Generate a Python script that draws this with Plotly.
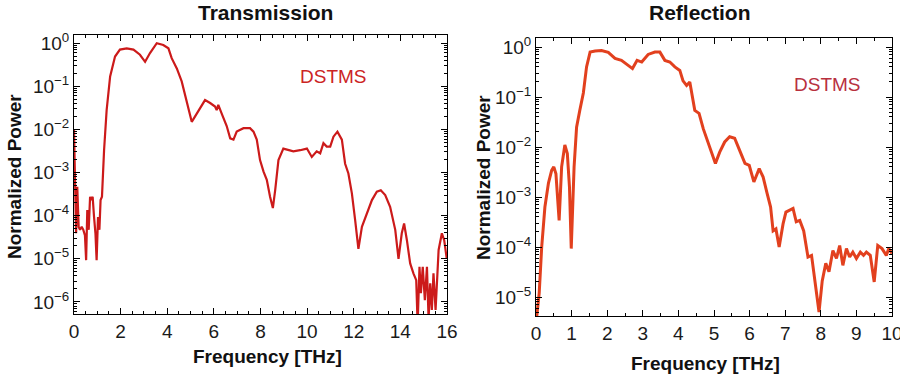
import plotly.graph_objects as go

# ---------------- data ----------------
trans_freq = [0, 0.04, 0.09, 0.14, 0.2, 0.26, 0.33, 0.4, 0.47, 0.52, 0.57, 0.63, 0.69, 0.74, 0.8,
              0.86, 0.92, 0.97, 1.03, 1.09, 1.14, 1.2, 1.29, 1.4, 1.55, 1.76, 1.97, 2.26, 2.55, 2.83,
              3.05, 3.26, 3.55, 3.83, 4.05, 4.19, 4.41, 4.62, 4.84, 5.05, 5.26, 5.48, 5.62, 5.84, 6.05,
              6.12, 6.19, 6.34, 6.55, 6.7, 6.84, 6.98, 7.27, 7.55, 7.7, 7.84, 7.98, 8.13, 8.27, 8.41,
              8.53, 8.63, 8.77, 8.98, 9.2, 9.41, 9.7, 9.99, 10.2, 10.41, 10.56, 10.7, 10.84, 10.99,
              11.13, 11.3, 11.49, 11.63, 11.77, 11.92, 12.06, 12.2, 12.35, 12.56, 12.78, 12.99, 13.16,
              13.35, 13.56, 13.78, 13.92, 14.06, 14.16, 14.28, 14.42, 14.56, 14.68, 14.74, 14.82, 14.88,
              14.96, 15.05, 15.14, 15.21, 15.28, 15.35, 15.42, 15.51, 15.64, 15.78, 15.88, 15.99]
trans_power = [1.0e-2, 4.7e-4, 3.9e-5, 4.7e-4, 5.5e-5, 4.7e-5, 5.5e-5, 4.7e-5, 3.5e-5, 9.3e-6,
               1.35e-4, 4.7e-5, 2.75e-4, 2.3e-4, 2.75e-4, 9.3e-5, 3.9e-5, 9.3e-6, 9.3e-5, 4.7e-5,
               2.3e-4, 2.75e-4, 3.3e-3, 2.8e-2, 0.17, 0.49, 0.71, 0.76, 0.71, 0.54,
               0.37, 0.59, 1.0, 0.91, 0.76, 0.45, 0.26, 0.13, 0.041, 0.015, 0.023, 0.037, 0.048,
               0.041, 0.034, 0.028, 0.037, 0.023, 0.012, 6.2e-3, 5.8e-3, 8.9e-3, 1.07e-2, 1.07e-2,
               8.9e-3, 5.8e-3, 1.95e-3, 1.05e-3, 6.8e-4, 2.75e-4, 1.5e-4, 3.9e-4, 1.95e-3, 3.6e-3,
               3.3e-3, 3.1e-3, 3.3e-3, 3.6e-3, 2.3e-3, 3.1e-3, 2.8e-3, 4.8e-3, 4.0e-3, 4.0e-3,
               6.8e-3, 8.9e-3, 5.8e-3, 1.6e-3, 9.5e-4, 3.3e-4, 7.9e-5, 1.7e-5, 5.5e-5, 1.1e-4,
               2.3e-4, 3.6e-4, 3.9e-4, 3.0e-4, 1.6e-4, 4.7e-5, 1.0e-5, 3.9e-5, 6.6e-5, 2.7e-5,
               7.8e-6, 4.6e-6, 3.2e-6, 3e-7, 6.5e-6, 1.6e-6, 6.5e-6, 1.1e-6, 6.5e-6, 4e-7,
               2.7e-6, 6.5e-7, 4.6e-6, 6.5e-7, 1.6e-5, 3.9e-5, 2.7e-5, 1.0e-5]

refl_freq = [0.02, 0.09, 0.16, 0.25, 0.35, 0.44, 0.5, 0.56, 0.65, 0.72, 0.81, 0.88, 0.94, 0.99,
             1.07, 1.14, 1.23, 1.33, 1.42, 1.52, 1.66, 1.84, 2.03, 2.22, 2.4, 2.59, 2.71, 2.84,
             2.97, 3.15, 3.34, 3.48, 3.62, 3.76, 3.9, 4.04, 4.13, 4.23, 4.32, 4.46, 4.58, 4.7,
             4.81, 4.93, 5.04, 5.16, 5.3, 5.44, 5.58, 5.7, 5.87, 5.99, 6.12, 6.27, 6.38, 6.49,
             6.59, 6.66, 6.74, 6.83, 6.94, 7.02, 7.13, 7.22, 7.31, 7.41, 7.52, 7.64, 7.74, 7.83,
             7.95, 8.04, 8.14, 8.23, 8.34, 8.44, 8.53, 8.62, 8.72, 8.81, 8.9, 9.0, 9.11, 9.2,
             9.28, 9.39, 9.5, 9.6, 9.72, 9.84, 9.91, 10.0]
refl_power = [4e-6, 1.2e-5, 1.0e-4, 6.3e-4, 1.9e-3, 3.4e-3, 4.0e-3, 2.9e-3, 3.4e-4, 4.0e-3,
              1.1e-2, 7.4e-3, 1.6e-3, 9.3e-5, 4.0e-3, 2.5e-2, 5.4e-2, 0.12, 0.4, 0.79, 0.83,
              0.85, 0.78, 0.59, 0.54, 0.43, 0.37, 0.54, 0.5, 0.71, 0.79, 0.79, 0.54, 0.5, 0.4,
              0.34, 0.21, 0.17, 0.2, 0.054, 0.047, 0.023, 0.0135, 7.4e-3, 4.7e-3, 7.9e-3,
              1.26e-2, 1.6e-2, 1.5e-2, 9.3e-3, 4.7e-3, 4.3e-3, 2.0e-3, 3.7e-3, 2.5e-3, 1.2e-3,
              6.3e-4, 2.1e-4, 2.3e-4, 1.0e-4, 2.9e-4, 5.0e-4, 5.6e-4, 5.9e-4, 3.2e-4, 3.4e-4,
              2.1e-4, 6.3e-5, 6.8e-5, 2.1e-5, 5.0e-6, 2.1e-5, 4.7e-5, 3.2e-5, 8.5e-5, 5.9e-5,
              1.07e-4, 4.3e-5, 9.3e-5, 6.3e-5, 7.9e-5, 5.9e-5, 7.9e-5, 6.8e-5, 7.9e-5, 6.8e-5,
              2.0e-5, 1.07e-4, 9.3e-5, 6.8e-5, 9.3e-5, 7.4e-5]

trans_ytick_vals = [1e-6, 1e-5, 1e-4, 1e-3, 1e-2, 1e-1, 1]
trans_ytick_text = ["10<sup>−6</sup>", "10<sup>−5</sup>", "10<sup>−4</sup>", "10<sup>−3</sup>",
                    "10<sup>−2</sup>", "10<sup>−1</sup>", "10<sup>0</sup>"]
refl_ytick_vals = [1e-5, 1e-4, 1e-3, 1e-2, 1e-1, 1]
refl_ytick_text = ["10<sup>−5</sup>", "10<sup>−4</sup>", "10<sup>−3</sup>",
                   "10<sup>−2</sup>", "10<sup>−1</sup>", "10<sup>0</sup>"]

panel_titles = ["Transmission", "Reflection"]
x_title = "Frequency [THz]"
y_title = "Normalized Power"
label = "DSTMS"

# ---------------- figure ----------------
FONT = "Liberation Sans, Arial, Helvetica, sans-serif"
W, H = 900, 378

def minor_log(lo, hi):
    vals = []
    for e in range(lo, hi + 1):
        for k in range(2, 10):
            vals.append(k * 10 ** e)
    return vals

fig = go.Figure()
fig.add_trace(go.Scatter(x=trans_freq, y=trans_power, mode="lines",
                         line=dict(color="#cc1a1a", width=2.2), xaxis="x", yaxis="y",
                         showlegend=False))
fig.add_trace(go.Scatter(x=refl_freq, y=refl_power, mode="lines",
                         line=dict(color="#e2401e", width=3), xaxis="x2", yaxis="y2",
                         showlegend=False))

axis_common = dict(showline=True, linecolor="black", linewidth=1, mirror="ticks",
                   ticks="inside", tickcolor="black", ticklen=6, tickwidth=1,
                   showgrid=False, zeroline=False, automargin=False,
                   ticklabeloverflow="allow",
                   tickfont=dict(family=FONT, size=19, color="#1a1a1a"))

# pixel geometry
L1, R1, T1, B1 = 74, 447, 35, 314
L2, R2, T2, B2 = 536, 892, 38, 316

fig.update_layout(
    width=W, height=H, margin=dict(l=0, r=0, t=0, b=0, autoexpand=False),
    paper_bgcolor="white", plot_bgcolor="white",
    xaxis=dict(domain=[L1 / W, R1 / W], range=[0, 16], tickvals=list(range(0, 17, 2)),
               minor=dict(ticks="inside", ticklen=3, tickcolor="black", dtick=0.5, tick0=0),
               anchor="y", **axis_common),
    yaxis=dict(domain=[1 - B1 / H, 1 - T1 / H], type="log", range=[-6.28, 0.19],
               tickvals=trans_ytick_vals, ticktext=trans_ytick_text,
               minor=dict(ticks="inside", ticklen=3, tickcolor="black",
                          tickvals=minor_log(-7, 0)),
               anchor="x", **axis_common),
    xaxis2=dict(domain=[L2 / W, R2 / W], range=[0, 10], tickvals=list(range(0, 11)),
                minor=dict(ticks="inside", ticklen=3, tickcolor="black", dtick=0.5, tick0=0),
                anchor="y2", **axis_common),
    yaxis2=dict(domain=[1 - B2 / H, 1 - T2 / H], type="log", range=[-5.38, 0.18],
                tickvals=refl_ytick_vals, ticktext=refl_ytick_text,
                minor=dict(ticks="inside", ticklen=3, tickcolor="black",
                           tickvals=minor_log(-6, 0)),
                anchor="x2", **axis_common),
)

def px_ann(text, x, y, size, bold=False, color="#111", angle=0):
    fig.add_annotation(text=f"<b>{text}</b>" if bold else text,
                       x=x / W, y=1 - y / H, xref="paper", yref="paper",
                       showarrow=False, textangle=angle, xanchor="center", yanchor="middle",
                       font=dict(family=FONT, size=size, color=color))

px_ann(panel_titles[0], 265, 12, 21, bold=True)
px_ann(panel_titles[1], 700, 12, 21, bold=True)
px_ann(x_title, 267, 356, 19, bold=True)
px_ann(x_title, 705, 363, 19, bold=True)
px_ann(y_title, 14, 177, 19, bold=True, angle=-90)
px_ann(y_title, 483, 177, 19, bold=True, angle=-90)
px_ann(label, 333, 76, 19, color="#cc2424")
px_ann(label, 827, 84, 19, color="#b8303e")

fig.write_html("out.html", config={"displayModeBar": False},
               post_script="document.body.style.margin='0';document.body.style.overflow='hidden';")
